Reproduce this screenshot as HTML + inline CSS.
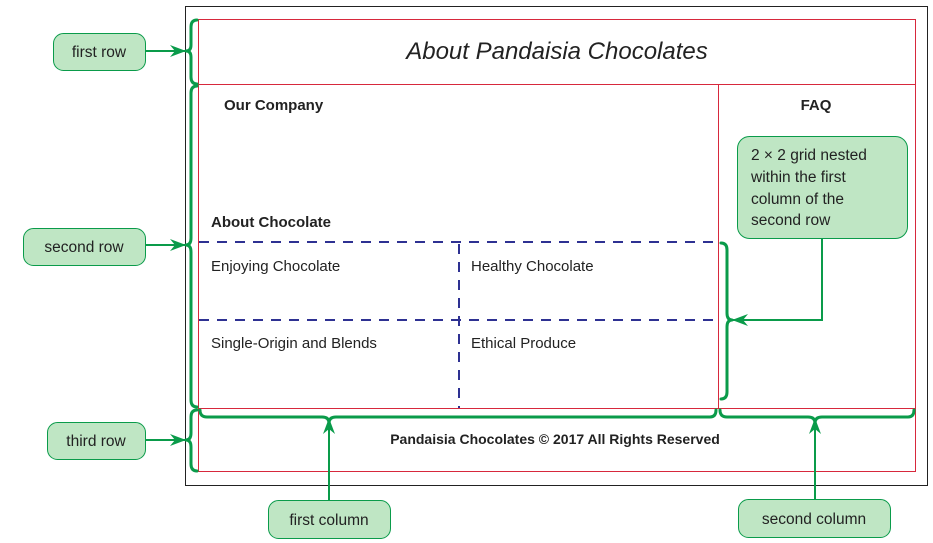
<!DOCTYPE html>
<html><head><style>
body{margin:0;background:#fff;}
svg{display:block;font-family:"Liberation Sans",sans-serif;}
</style></head><body>
<svg width="933" height="543" viewBox="0 0 933 543" xmlns="http://www.w3.org/2000/svg">
<defs>
<marker id="ah" markerWidth="16" markerHeight="12" refX="15" refY="6" orient="auto" markerUnits="userSpaceOnUse">
<path d="M0,0 L16,6 L0,12 L5,6 Z" fill="#0a9b4a"/>
</marker>
</defs>
<rect x="185.5" y="6.5" width="742" height="479" fill="none" stroke="#222" stroke-width="1"/>
<g fill="none" stroke="#d7283c" stroke-width="1">
<rect x="198.5" y="19.5" width="717" height="452"/>
<line x1="198" y1="84.5" x2="916" y2="84.5"/>
<line x1="198" y1="408.5" x2="916" y2="408.5"/>
<line x1="718.5" y1="84" x2="718.5" y2="408"/>
</g>
<g stroke="#2e3192" stroke-width="2" stroke-dasharray="10,8" fill="none">
<line x1="199" y1="242" x2="716" y2="242"/>
<line x1="199" y1="320" x2="716" y2="320"/>
<line x1="459" y1="244" x2="459" y2="408"/>
</g>
<text x="557" y="59" font-size="24" font-style="italic" fill="#222" text-anchor="middle">About Pandaisia Chocolates</text>
<text x="224" y="110" font-size="15" font-weight="bold" fill="#222">Our Company</text>
<text x="816" y="110" font-size="15" font-weight="bold" fill="#222" text-anchor="middle">FAQ</text>
<text x="211" y="227" font-size="15" font-weight="bold" fill="#222">About Chocolate</text>
<text x="211" y="271" font-size="15" fill="#222">Enjoying Chocolate</text>
<text x="471" y="271" font-size="15" fill="#222">Healthy Chocolate</text>
<text x="211" y="348" font-size="15" fill="#222">Single-Origin and Blends</text>
<text x="471" y="348" font-size="15" fill="#222">Ethical Produce</text>
<text x="555" y="444" font-size="14" font-weight="bold" fill="#222" text-anchor="middle">Pandaisia Chocolates © 2017 All Rights Reserved</text>
<g fill="none" stroke="#0a9b4a" stroke-width="3" stroke-linecap="round" stroke-linejoin="round">
<path d="M197,20 Q191,20 191,27 L191,45 Q191,51 186,51 Q191,51 191,57 L191,77 Q191,84 197,84"/>
<path d="M197,86 Q191,86 191,93 L191,238 Q191,245 186,245 Q191,245 191,252 L191,400 Q191,407 197,407"/>
<path d="M197,410 Q191,410 191,417 L191,433 Q191,440 186,440 Q191,440 191,447 L191,464 Q191,471 197,471"/>
<path d="M200,410 Q200,417 207,417 L322,417 Q329,417 329,423 Q329,417 336,417 L710,417 Q716,417 716,410"/>
<path d="M720,410 Q720,417 727,417 L808,417 Q815,417 815,423 Q815,417 822,417 L908,417 Q914,417 914,410"/>
<path d="M721,243 Q727,243 727,250 L727,313 Q727,320 732,320 Q727,320 727,327 L727,392 Q727,399 721,399"/>
</g>
<g fill="none" stroke="#0a9b4a" stroke-width="2">
<line x1="146" y1="51" x2="185" y2="51" marker-end="url(#ah)"/>
<line x1="146" y1="245" x2="185" y2="245" marker-end="url(#ah)"/>
<line x1="146" y1="440" x2="185" y2="440" marker-end="url(#ah)"/>
<line x1="329" y1="500" x2="329" y2="419" marker-end="url(#ah)"/>
<line x1="815" y1="500" x2="815" y2="419" marker-end="url(#ah)"/>
<path d="M822,238 L822,320 L733,320" marker-end="url(#ah)"/>
</g>
<g fill="#bfe6c4" stroke="#0a9b4a" stroke-width="1">
<rect x="53.5" y="33.5" width="92" height="37" rx="10"/>
<rect x="23.5" y="228.5" width="122" height="37" rx="10"/>
<rect x="47.5" y="422.5" width="98" height="37" rx="10"/>
<rect x="268.5" y="500.5" width="122" height="38" rx="10"/>
<rect x="738.5" y="499.5" width="152" height="38" rx="10"/>
<rect x="737.5" y="136.5" width="170" height="102" rx="12"/>
</g>
<g font-size="15.5" fill="#222" text-anchor="middle">
<text x="99" y="57">first row</text>
<text x="84" y="252">second row</text>
<text x="96" y="446">third row</text>
<text x="329" y="525">first column</text>
<text x="814" y="524">second column</text>
</g>
<g font-size="15.5" fill="#222">
<text x="751" y="160">2 × 2 grid nested</text>
<text x="751" y="182">within the first</text>
<text x="751" y="204">column of the</text>
<text x="751" y="225">second row</text>
</g>
</svg>
</body></html>
